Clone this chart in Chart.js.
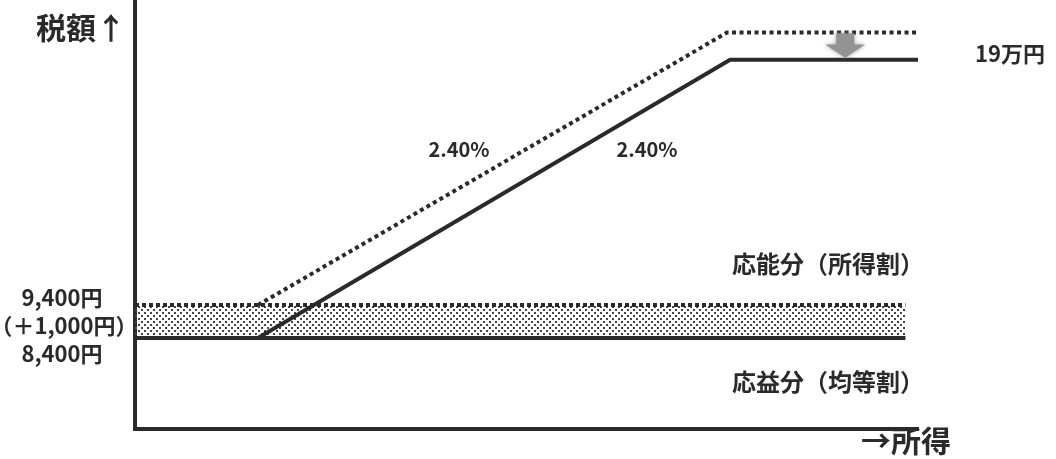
<!DOCTYPE html>
<html lang="ja">
<head>
<meta charset="utf-8">
<title>税額と所得</title>
<script src="https://cdn.jsdelivr.net/npm/chart.js@4.4.1/dist/chart.umd.min.js"></script>
<style>
  html, body { margin: 0; padding: 0; background: #ffffff; }
  #wrap { position: relative; width: 1056px; height: 459px; }
</style>
</head>
<body>
<div id="wrap"><canvas id="c" width="1056" height="459"></canvas></div>
<script>
// 所得（模式的な目盛り 0〜100）
const incomeBase   = [0, 98.4];          // 均等割の水平線
const incomeBand   = [0, 98.4];          // 均等割引上げ後の水平線
const incomeSolid  = [15.7, 76.0, 100];  // 所得割（実線）
const incomeDotted = [15.7, 75.6, 100];  // 所得割（点線）

// 税額（円）
const taxBase   = [8400, 8400];
const taxBand   = [9400, 9400];
const taxSolid  = [8400, 190000, 190000];
const taxDotted = [9400, 210000, 210000];

// 文字
const rateLabels  = ['2.40%', '2.40%'];
const axisTitleY  = '税額↑';
const axisTitleX  = '→所得';
const partLabels  = ['応能分（所得割）', '応益分（均等割）'];
const capLabel    = '19万円';

const yen = v => v.toLocaleString('ja-JP') + '円';
const leftLabels = [yen(taxBand[0]), '（＋' + yen(taxBand[0] - taxBase[0]) + '）', yen(taxBase[0])];

const pts = (xs, ys) => xs.map((x, i) => ({ x, y: ys[i] }));

// 下部（0〜9,400円）を拡大し、それより上は一定の比率で描く縦軸
class BrokenScale extends Chart.LinearScale {
  _stops() { return this.options.breaks; }
  getPixelForValue(v) {
    if (v === null || v === undefined) return NaN;
    const { values, fractions } = this._stops();
    let i = 0;
    while (i < values.length - 2 && v > values[i + 1]) i++;
    const t = (v - values[i]) / (values[i + 1] - values[i]);
    return this.getPixelForDecimal(fractions[i] + t * (fractions[i + 1] - fractions[i]));
  }
  getValueForPixel(p) {
    const d = this.getDecimalForPixel(p);
    const { values, fractions } = this._stops();
    let i = 0;
    while (i < fractions.length - 2 && d > fractions[i + 1]) i++;
    const t = (d - fractions[i]) / (fractions[i + 1] - fractions[i]);
    return values[i] + t * (values[i + 1] - values[i]);
  }
}
BrokenScale.id = 'broken';
BrokenScale.defaults = Chart.LinearScale.defaults;
Chart.register(BrokenScale);

// 網点の塗り（点のあいだは透明）
function dotPattern(g) {
  const p = document.createElement('canvas');
  p.width = 6; p.height = 6;
  const pc = p.getContext('2d');
  pc.fillStyle = '#454545';
  pc.fillRect(0, 0, 2, 2);
  pc.fillRect(3, 3, 2, 2);
  return g.createPattern(p, 'repeat');
}
const ctx0 = document.getElementById('c').getContext('2d');
const band = dotPattern(ctx0);

const INK = '#2a2a2a';
const FONT = "'Noto Sans CJK JP', 'Noto Sans', sans-serif";

const textPlugin = {
  id: 'annotations',
  afterDraw(chart) {
    const { ctx, scales: { x, y } } = chart;
    ctx.save();
    ctx.fillStyle = INK;
    ctx.textBaseline = 'middle';

    // 軸の見出し
    ctx.font = `bold 30px ${FONT}`;
    ctx.textAlign = 'left';
    ctx.fillText(axisTitleY, 36, 28);
    ctx.textAlign = 'right';
    ctx.fillText(axisTitleX, 951, 441);

    // 左側の金額
    ctx.font = `bold 22px ${FONT}`;
    ctx.textAlign = 'center';
    ctx.fillText(leftLabels[0], 62, y.getPixelForValue(taxBand[0]) - 7);
    ctx.fillText(leftLabels[1], 64, (y.getPixelForValue(taxBand[0]) + y.getPixelForValue(taxBase[0])) / 2 + 4);
    ctx.fillText(leftLabels[2], 62, y.getPixelForValue(taxBase[0]) + 16);

    // 上限額
    ctx.textAlign = 'left';
    ctx.fillText(capLabel, 975, y.getPixelForValue(taxSolid[1]) - 6);

    // 税率
    ctx.font = `bold 20px ${FONT}`;
    ctx.textAlign = 'center';
    ctx.fillText(rateLabels[0], 459, 149);
    ctx.fillText(rateLabels[1], 647, 149);

    // 区分
    ctx.font = `bold 24px ${FONT}`;
    ctx.textAlign = 'right';
    ctx.fillText(partLabels[0], 924, 264);
    ctx.fillText(partLabels[1], 924, 382);

    // 上限の引下げを示す矢印
    const ax = x.getPixelForValue(90.7);
    const top = y.getPixelForValue(taxDotted[1]);
    const bot = y.getPixelForValue(taxSolid[1]);
    ctx.fillStyle = '#939393';
    ctx.shadowColor = 'rgba(130,130,130,0.8)';
    ctx.shadowBlur = 4;
    ctx.beginPath();
    ctx.moveTo(ax - 9, top + 1);
    ctx.lineTo(ax + 9, top + 1);
    ctx.lineTo(ax + 9, top + 12);
    ctx.lineTo(ax + 20, top + 12);
    ctx.lineTo(ax, bot - 2);
    ctx.lineTo(ax - 20, top + 12);
    ctx.lineTo(ax - 9, top + 12);
    ctx.closePath();
    ctx.fill();
    ctx.restore();
  }
};

new Chart(ctx0, {
  type: 'line',
  data: {
    datasets: [
      {
        data: pts(incomeBase, taxBase),
        borderColor: INK,
        borderWidth: 4,
        pointRadius: 0,
        fill: false,
        order: 3
      },
      {
        data: pts(incomeBand, taxBand),
        borderColor: INK,
        borderWidth: 4,
        borderDash: [4, 3],
        pointRadius: 0,
        backgroundColor: band,
        fill: 0,
        order: 4
      },
      {
        data: pts(incomeSolid, taxSolid),
        borderColor: INK,
        borderWidth: 4,
        borderJoinStyle: 'miter',
        pointRadius: 0,
        fill: false,
        order: 1
      },
      {
        data: pts(incomeDotted, taxDotted),
        borderColor: INK,
        borderWidth: 4,
        borderDash: [4, 3.5],
        borderJoinStyle: 'miter',
        pointRadius: 0,
        fill: false,
        order: 2
      }
    ]
  },
  options: {
    responsive: false,
    animation: false,
    events: [],
    layout: { padding: { left: 135, right: 138, top: 0, bottom: 30 } },
    plugins: { legend: { display: false }, tooltip: { enabled: false } },
    scales: {
      x: {
        type: 'linear',
        min: 0,
        max: 100,
        ticks: { display: false },
        grid: { display: false, drawTicks: false },
        border: { display: true, color: INK, width: 4 }
      },
      y: {
        type: 'broken',
        min: 0,
        max: 234000,
        breaks: { values: [0, 8400, 9400, 234000], fractions: [0, 0.212, 0.289, 1] },
        ticks: { display: false },
        grid: { display: false, drawTicks: false },
        border: { display: true, color: INK, width: 4 }
      }
    }
  },
  plugins: [textPlugin]
});
</script>
</body>
</html>
